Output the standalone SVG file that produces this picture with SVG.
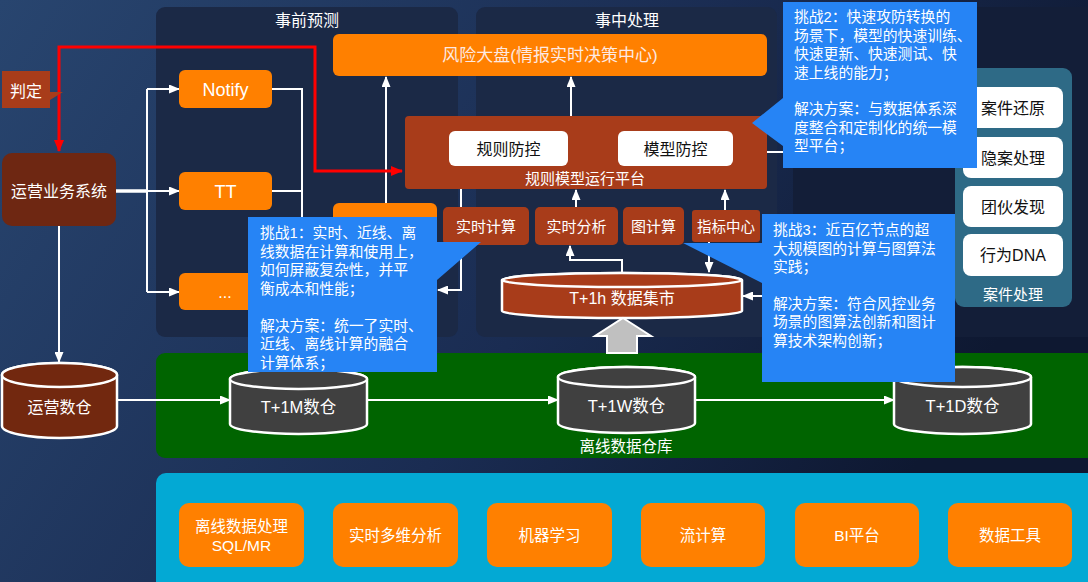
<svg xmlns="http://www.w3.org/2000/svg" width="1088" height="582" viewBox="0 0 1088 582">
<defs>
<linearGradient id="bg" x1="0" y1="0" x2="1" y2="0.35">
<stop offset="0" stop-color="#28456f"/>
<stop offset="0.6" stop-color="#1a2c52"/>
<stop offset="1" stop-color="#0e1831"/>
</linearGradient>
<marker id="aw" markerUnits="userSpaceOnUse" markerWidth="11" markerHeight="9" refX="10" refY="4.5" orient="auto"><path d="M0,0 L11,4.5 L0,9 z" fill="#fff"/></marker>
<marker id="ar" markerUnits="userSpaceOnUse" markerWidth="12" markerHeight="10" refX="11" refY="5" orient="auto-start-reverse"><path d="M0,0 L12,5 L0,10 z" fill="#ff0000"/></marker>
<style>
text{font-family:"Liberation Sans","Noto Sans CJK SC",sans-serif;text-anchor:middle;}
.w{fill:#fff;}
.k{fill:#111;}
.panel{fill:#1b2946;}
.org{fill:#ff8000;}
.rust{fill:#a83c1a;}
.wb{fill:#fff;}
.cy{stroke:#fff;stroke-width:2.5;}
.ln{stroke:#fff;stroke-width:2;fill:none;}
.lna{stroke:#fff;stroke-width:2;fill:none;marker-end:url(#aw);}
.co{fill:#2684f5;}
.ct{font-size:14.8px;fill:#fff;text-anchor:start;}
.bx{fill:#ff8000;}
</style>
</defs>
<rect x="0" y="0" width="1088" height="582" fill="url(#bg)"/>

<g id="panel-pre">
<rect class="panel" x="156" y="7" width="302" height="330" rx="9"/>
<text class="w" x="307" y="26" font-size="16">事前预测</text>
</g>
<g id="panel-mid">
<rect class="panel" x="476" y="7" width="301" height="330" rx="9"/>
<text class="w" x="627" y="26" font-size="16">事中处理</text>
</g>
<g id="panel-right">
<rect x="793" y="7" width="310" height="330" rx="9" fill="#131e38"/>
</g>

<g id="green-dw">
<rect x="156" y="353" width="945" height="105" rx="9" fill="#006400"/>
<text class="w" x="626" y="452" font-size="15.5">离线数据仓库</text>
</g>

<g id="tools">
<rect x="156" y="473" width="945" height="120" rx="10" fill="#03a9d4"/>
</g>

<g id="connectors">
<path d="M116,191 H147" stroke="#fff" stroke-width="3.5"/>
<path class="ln" d="M147,89 V292"/>
<path class="lna" d="M147,89 H179"/>
<path class="lna" d="M147,191 H179"/>
<path class="lna" d="M147,292 H179"/>
<path class="ln" d="M272,89 H302 V262"/>
<path class="ln" d="M272,191 H302"/>
<path class="lna" d="M386,203 V77"/>
<path class="lna" d="M571,116 V77"/>
<path class="lna" d="M461,189 V290 H438"/>
<path class="lna" d="M576,207 V190"/>
<path class="lna" d="M622,273 V260 H570 V246"/>
<path class="lna" d="M709,242 V272"/>
<path class="lna" d="M725,210 V190"/>
<path class="lna" d="M783,296 H743"/>
<path class="ln" d="M767,152 H963"/>
<path class="lna" d="M59,226 V362"/>
<path class="lna" d="M117,400 H230"/>
<path class="lna" d="M367,400 H558"/>
<path class="lna" d="M695,400 H894"/>
<path d="M402,171 H315 V47 H59 V151" fill="none" stroke="#ff0000" stroke-width="3" marker-start="url(#ar)" marker-end="url(#ar)"/>
</g>

<g id="risk-board">
<rect class="org" x="333" y="34" width="434" height="42" rx="6"/>
<text x="550" y="61" font-size="17" fill="#fde9e2">风险大盘(情报实时决策中心)</text>
</g>

<g id="platform">
<rect class="rust" x="405" y="116" width="362" height="73" rx="4"/>
<text class="w" x="585" y="184" font-size="15">规则模型运行平台</text>
</g>
<g id="rule-ctrl">
<rect class="wb" x="449" y="131" width="119" height="35" rx="6"/>
<text class="k" x="508.5" y="154.5" font-size="16">规则防控</text>
</g>
<g id="model-ctrl">
<rect class="wb" x="618" y="131" width="115" height="35" rx="6"/>
<text class="k" x="675.5" y="154.5" font-size="16">模型防控</text>
</g>

<g id="judge">
<path d="M2,71 H50 V92 L63,92 L50,100 V108 H2 Z" fill="#a83c1a"/>
<text class="w" x="26" y="96.5" font-size="16">判定</text>
</g>
<g id="ops-system">
<rect x="2" y="153" width="114" height="73" rx="10" fill="#6e2712"/>
<text class="w" x="59" y="196.5" font-size="16">运营业务系统</text>
</g>

<g id="notify">
<rect class="org" x="179" y="70" width="93" height="38" rx="6"/>
<text class="w" x="225.5" y="95.5" font-size="18">Notify</text>
</g>
<g id="tt">
<rect class="org" x="179" y="172" width="93" height="38" rx="6"/>
<text class="w" x="225.5" y="197.5" font-size="18">TT</text>
</g>
<g id="more">
<rect class="org" x="179" y="273" width="93" height="37" rx="6"/>
<text class="w" x="225" y="298" font-size="16">...</text>
</g>
<g id="hidden-box">
<rect class="org" x="333" y="203" width="104" height="97" rx="6"/>
</g>

<g id="rt-compute">
<rect class="rust" x="443" y="207" width="86" height="38" rx="5"/>
<text class="w" x="486" y="232" font-size="15">实时计算</text>
</g>
<g id="rt-analysis">
<rect class="rust" x="535" y="207" width="83" height="38" rx="5"/>
<text class="w" x="576.5" y="232" font-size="15">实时分析</text>
</g>
<g id="graph">
<rect class="rust" x="623" y="207" width="61" height="38" rx="5"/>
<text class="w" x="653.5" y="232" font-size="15">图计算</text>
</g>
<g id="metric">
<rect class="rust" x="692" y="210" width="68" height="32" rx="3"/>
<text class="w" x="726" y="231.5" font-size="14.5">指标中心</text>
</g>

<g id="mart-1h">
<path class="cy" fill="#a83c1a" d="M502,280 V311 A120,7 0 0 0 742,311 V280 A120,7 0 0 0 502,280 Z"/>
<ellipse class="cy" fill="#a83c1a" cx="622" cy="280" rx="120" ry="7"/>
<text class="w" x="622" y="304" font-size="16">T+1h 数据集市</text>
</g>
<g id="up-arrow">
<path d="M623,318 L651,336 L637,336 L637,353 L607,353 L607,336 L595,336 Z" fill="#c0c0c0" stroke="#fff" stroke-width="2"/>
</g>

<g id="ops-dw">
<path class="cy" fill="#72280f" d="M2,375 V426 A57.5,12 0 0 0 117,426 V375 A57.5,12 0 0 0 2,375 Z"/>
<ellipse class="cy" fill="#72280f" cx="59.5" cy="375" rx="57.5" ry="12"/>
<text class="w" x="59.5" y="413" font-size="16">运营数仓</text>
</g>
<g id="dw-1m">
<path class="cy" fill="#404040" d="M230,379 V424 A68.5,10 0 0 0 367,424 V379 A68.5,10 0 0 0 230,379 Z"/>
<ellipse class="cy" fill="#404040" cx="298.5" cy="379" rx="68.5" ry="10"/>
<text class="w" x="298.5" y="413" font-size="16.5">T+1M数仓</text>
</g>
<g id="dw-1w">
<path class="cy" fill="#404040" d="M558,377 V423 A68.5,10 0 0 0 695,423 V377 A68.5,10 0 0 0 558,377 Z"/>
<ellipse class="cy" fill="#404040" cx="626.5" cy="377" rx="68.5" ry="10"/>
<text class="w" x="626.5" y="412" font-size="16.5">T+1W数仓</text>
</g>
<g id="dw-1d">
<path class="cy" fill="#404040" d="M894,377 V424 A68.5,10 0 0 0 1031,424 V377 A68.5,10 0 0 0 894,377 Z"/>
<ellipse class="cy" fill="#404040" cx="962.5" cy="377" rx="68.5" ry="10"/>
<text class="w" x="962.5" y="412" font-size="16.5">T+1D数仓</text>
</g>

<g id="case-panel">
<rect x="955" y="68" width="117" height="239" rx="9" fill="#2e6a86"/>
<rect class="wb" x="963" y="87" width="100" height="41" rx="8"/>
<text class="k" x="1013" y="113.5" font-size="16">案件还原</text>
<rect class="wb" x="963" y="137" width="100" height="41" rx="8"/>
<text class="k" x="1013" y="163.5" font-size="16">隐案处理</text>
<rect class="wb" x="963" y="186" width="100" height="41" rx="8"/>
<text class="k" x="1013" y="212.5" font-size="16">团伙发现</text>
<rect class="wb" x="963" y="234" width="100" height="42" rx="8"/>
<text class="k" x="1013" y="261" font-size="16">行为DNA</text>
<text class="w" x="1013" y="300" font-size="15">案件处理</text>
</g>

<g id="tool-boxes">
<rect class="bx" x="179" y="503" width="125" height="64" rx="10"/>
<text class="w" x="241.5" y="532" font-size="15.5">离线数据处理</text>
<text class="w" x="241.5" y="551" font-size="15.5">SQL/MR</text>
<rect class="bx" x="333" y="503" width="125" height="64" rx="10"/>
<text class="w" x="395.5" y="541" font-size="15.5">实时多维分析</text>
<rect class="bx" x="487" y="503" width="125" height="64" rx="10"/>
<text class="w" x="549.5" y="541" font-size="15.5">机器学习</text>
<rect class="bx" x="641" y="503" width="124" height="64" rx="10"/>
<text class="w" x="703" y="541" font-size="15.5">流计算</text>
<rect class="bx" x="795" y="503" width="124" height="64" rx="10"/>
<text class="w" x="857" y="541" font-size="15.5">BI平台</text>
<rect class="bx" x="948" y="503" width="124" height="64" rx="10"/>
<text class="w" x="1010" y="541" font-size="15.5">数据工具</text>
</g>

<g id="callout-1">
<path class="co" d="M248,217 H437 V242 H481 L437,280 V372 H248 Z"/>
<text class="ct" x="260" y="238">挑战1：实时、近线、离</text>
<text class="ct" x="260" y="256.5">线数据在计算和使用上，</text>
<text class="ct" x="260" y="275">如何屏蔽复杂性，并平</text>
<text class="ct" x="260" y="293.5">衡成本和性能；</text>
<text class="ct" x="260" y="330.5">解决方案：统一了实时、</text>
<text class="ct" x="260" y="349">近线、离线计算的融合</text>
<text class="ct" x="260" y="367.5">计算体系；</text>
</g>
<g id="callout-2">
<path class="co" d="M783,2 H977 V168 H783 V146 L752,123 L783,98 Z"/>
<text class="ct" x="794" y="22">挑战2：快速攻防转换的</text>
<text class="ct" x="794" y="40.6">场景下，模型的快速训练、</text>
<text class="ct" x="794" y="59.2">快速更新、快速测试、快</text>
<text class="ct" x="794" y="77.8">速上线的能力；</text>
<text class="ct" x="794" y="114">解决方案：与数据体系深</text>
<text class="ct" x="794" y="132.6">度整合和定制化的统一模</text>
<text class="ct" x="794" y="151.2">型平台；</text>
</g>
<g id="callout-3">
<path class="co" d="M762,214 H955 V382 H762 V283 L683,243 H762 Z"/>
<text class="ct" x="773" y="235">挑战3：近百亿节点的超</text>
<text class="ct" x="773" y="253.5">大规模图的计算与图算法</text>
<text class="ct" x="773" y="272">实践；</text>
<text class="ct" x="773" y="308.5">解决方案：符合风控业务</text>
<text class="ct" x="773" y="327">场景的图算法创新和图计</text>
<text class="ct" x="773" y="345.5">算技术架构创新；</text>
</g>
</svg>
